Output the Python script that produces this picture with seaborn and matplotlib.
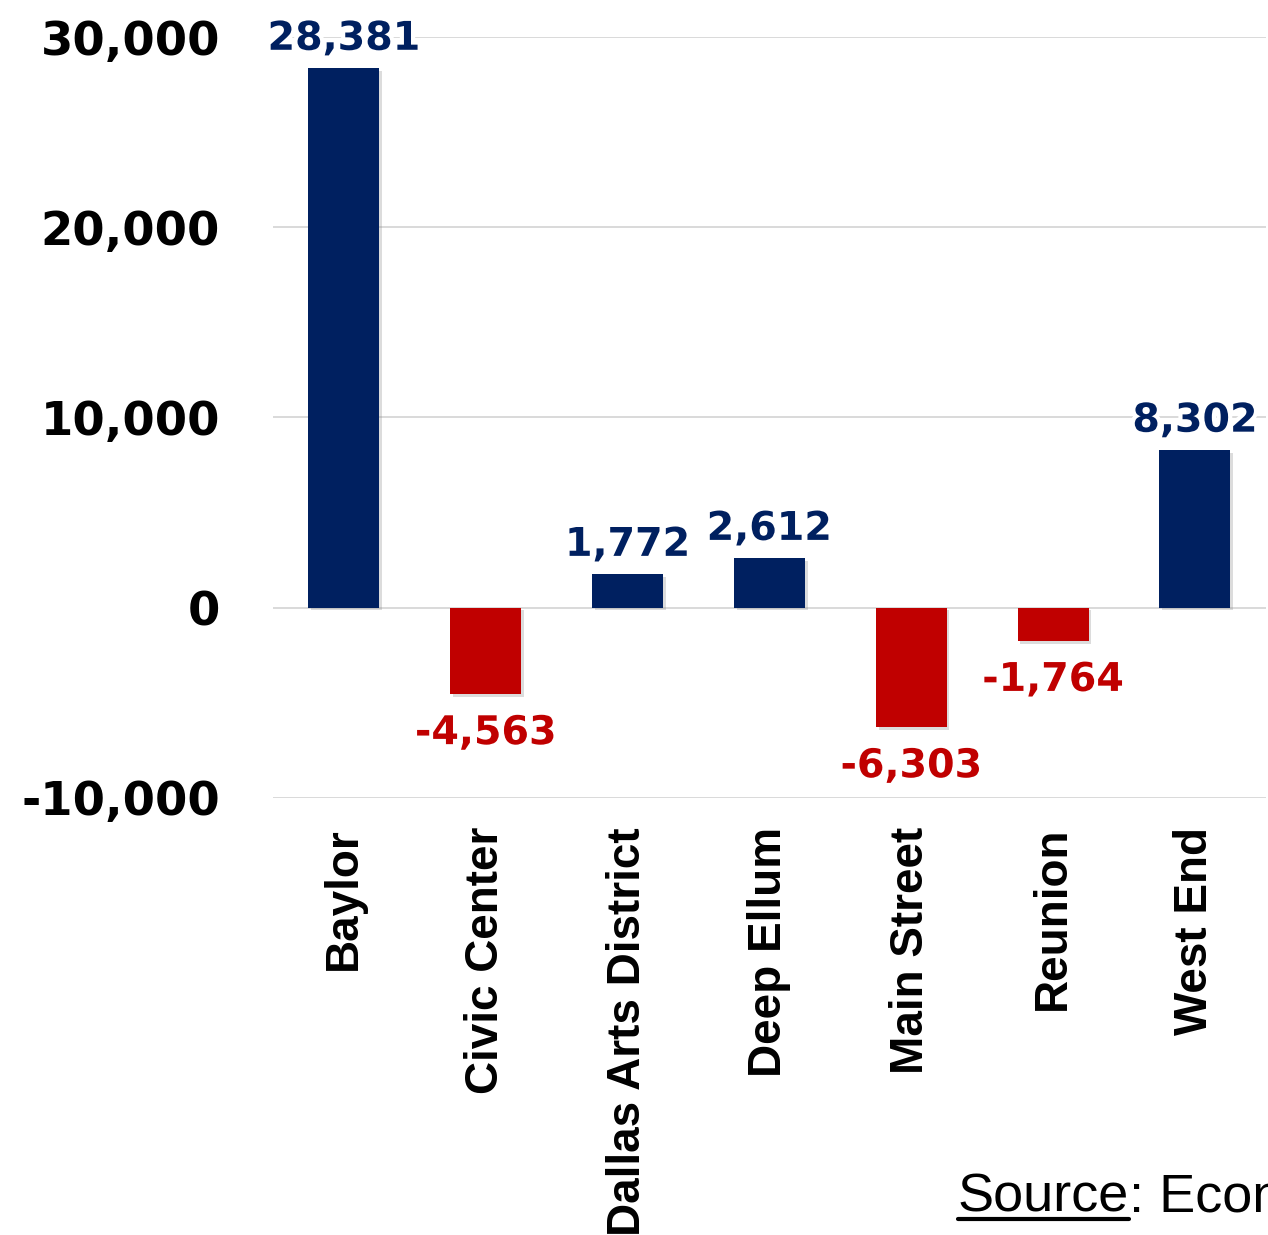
import matplotlib
matplotlib.use("Agg")
import matplotlib.pyplot as plt
import matplotlib.patheffects as pe
from matplotlib.lines import Line2D
import seaborn as sns
import pandas as pd

# Net change by downtown district
districts = ["Baylor", "Civic Center", "Dallas Arts District", "Deep Ellum",
             "Main Street", "Reunion", "West End"]
net_change = [28381, -4563, 1772, 2612, -6303, -1764, 8302]
y_ticks = [-10000, 0, 10000, 20000, 30000]
y_tick_labels = ["-10,000", "0", "10,000", "20,000", "30,000"]

NAVY = "#002060"
RED = "#C00000"
GRID = "#D9D9D9"

sns.set_style("white")
plt.rcParams["font.family"] = ["DejaVu Sans"]

df = pd.DataFrame({"district": districts, "change": net_change})
colors = {d: (NAVY if v >= 0 else RED) for d, v in zip(districts, net_change)}

fig = plt.figure(figsize=(12.68, 12.35), dpi=100)
ax = fig.add_axes([0.2153, 0.354, 0.783, 0.616])

sns.barplot(data=df, x="district", y="change", hue="district",
            palette=colors, saturation=1, width=0.5, legend=False, ax=ax, zorder=3)

shadow = [pe.SimplePatchShadow(offset=(2, -2), shadow_rgbFace="#8c8c8c", alpha=0.3),
          pe.Normal()]
for patch in ax.patches:
    patch.set_path_effects(shadow)
    patch.set_linewidth(0)

ax.set_xlim(-0.5, len(districts) - 0.5)
ax.set_ylim(-10000, 30000)
ax.set_yticks(y_ticks)
ax.set_yticklabels(y_tick_labels)
ax.yaxis.grid(True, color=GRID, linewidth=1.4, zorder=0)
ax.xaxis.grid(False)
ax.set_axisbelow(True)
for s in ax.spines.values():
    s.set_visible(False)

ax.set_xlabel("")
ax.set_ylabel("")
ax.tick_params(axis="y", length=0, pad=38)
ax.tick_params(axis="x", length=0, pad=21)
for lbl in ax.get_yticklabels():
    lbl.set_fontfamily("DejaVu Sans")
    lbl.set_fontweight("bold")
    lbl.set_fontsize(33.5)
    lbl.set_color("black")
ax.set_xticks(range(len(districts)))
ax.set_xticklabels(districts, rotation=90, family="Liberation Sans",
                   fontweight="bold", fontsize=33, color="black")

# Value labels above / below bars
halo = [pe.withStroke(linewidth=6, foreground="white")]
for i, v in enumerate(net_change):
    txt = f"{v:,}"
    if v >= 0:
        ax.annotate(txt, (i, v), xytext=(0, 13), textcoords="offset points",
                    ha="center", va="baseline", color=NAVY, fontsize=28.5,
                    fontweight="bold", family="DejaVu Sans",
                    path_effects=halo, zorder=5, annotation_clip=False)
    else:
        ax.annotate(txt, (i, v), xytext=(0, -13.5), textcoords="offset points",
                    ha="center", va="top", color=RED, fontsize=28.5,
                    fontweight="bold", family="DejaVu Sans",
                    path_effects=halo, zorder=5, annotation_clip=False)

# Source note with underlined lead word
W, H = fig.get_size_inches() * fig.dpi
src = fig.text(958 / W, 1 - 1212 / H, "Source", family="Liberation Sans",
               fontsize=39, color="black", ha="left", va="baseline")
fig.canvas.draw()
bb = src.get_window_extent()
fig.text(bb.x1 / W, 1 - 1212 / H, ": Economic Development", family="Liberation Sans",
         fontsize=39, color="black", ha="left", va="baseline")
uy = (H - 1219) / H
fig.add_artist(Line2D([bb.x0 / W, bb.x1 / W], [uy, uy], color="black",
                      linewidth=3, transform=fig.transFigure))

fig.savefig("out.png", dpi=100)
